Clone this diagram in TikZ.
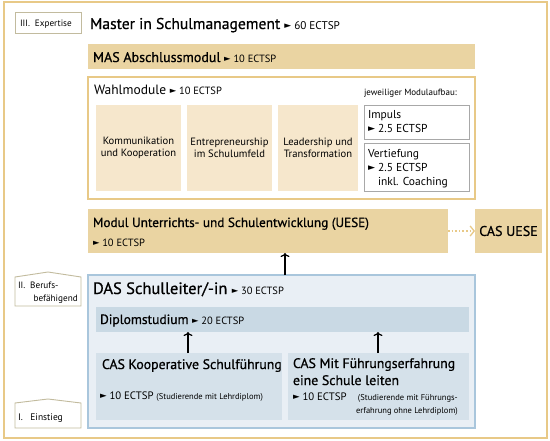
\documentclass[tikz,border=0pt]{standalone}
\usepackage{fontspec}
\setmainfont{PT Sans}
\newfontfamily\medf[FakeBold=0.7]{PT Sans}
\newfontfamily\symf{DejaVu Sans}
\usetikzlibrary{arrows.meta}
\definecolor{goldline}{HTML}{E8C987}
\definecolor{sand}{HTML}{EAD4A2}
\definecolor{lightsand}{HTML}{F6E7CC}
\definecolor{greyline}{HTML}{A8A8A8}
\definecolor{tagline}{HTML}{C2BB9E}
\definecolor{dasfill}{HTML}{E9EFF5}
\definecolor{dasline}{HTML}{A9C6DC}
\definecolor{dipfill}{HTML}{C9D9E4}
\definecolor{casfill}{HTML}{D5E1EA}
\newcommand\tri{\raisebox{0.1ex}{\symf\scalebox{0.8}{►}}}
\newcommand\fs[1]{\fontsize{#1}{#1}\selectfont}
\begin{document}
\begin{tikzpicture}[x=1pt,y=-1pt,
  box/.style={inner sep=0pt,outer sep=0pt,minimum width=#1},
  txt/.style={anchor=base west,inner sep=0pt,outer sep=0pt},
  upar/.style={line width=1.8pt,-{To[length=4pt,width=9pt,line width=1.2pt]}},
]
\useasboundingbox (0,0) rectangle (550,440);
\fill[white] (0,0) rectangle (550,440);
% outer frame
\node[box=543pt,minimum height=436pt,draw=goldline,line width=1.3pt] (frame) at (275.5,220) {};
% side tags
\node[box=66pt,minimum height=21pt,draw=tagline,fill=white,line width=0.9pt] (exp) at (48,22.5) {};
\node[txt] (expt) at (20,26) {\fs{9.2}III.\ \ Expertise};
\draw[draw=tagline,fill=white,line width=0.9pt] (15,306) -- (15,277) -- (48,272) -- (81,277) -- (81,306) -- cycle;
\node[txt] (beruf1) at (18,288) {\fs{9.2}II.\ \ Berufs-};
\node[anchor=base east,inner sep=0pt] (beruf2) at (78,301) {\fs{9.2}befähigend};
\draw[draw=tagline,fill=white,line width=0.9pt] (15,428) -- (15,403) -- (48,399) -- (81,403) -- (81,428) -- cycle;
\node[txt] (einst) at (18,420) {\fs{9.5}I.\ \ \ Einstieg};
% title
\node[txt] (title) at (90,29) {\fs{15.6}\medf Master in Schulmanagement \fs{11.2}\normalfont\tri\ 60 ECTSP};
% MAS
\node[box=387pt,minimum height=25pt,fill=sand] (mas) at (281.5,56.5) {};
\node[txt] (mast) at (93,62) {\fs{14}\medf MAS Abschlussmodul \fs{10.5}\normalfont\tri\ 10 ECTSP};
% Wahlmodule
\node[box=387pt,minimum height=122pt,draw=goldline,fill=white,line width=1.2pt] (wahl) at (281.5,138) {};
\node[txt] (wahlt) at (94,94) {\fs{13.5}Wahlmodule \fs{10.5}\tri\ 10 ECTSP};
\node[box=85pt,minimum height=86pt,fill=lightsand,align=center,font=\fs{10.6}\selectfont] (kom) at (138.5,148) {Kommunikation\\[2pt]und Kooperation};
\node[box=85pt,minimum height=86pt,fill=lightsand,align=center,font=\fs{10.6}\selectfont] (ent) at (229.5,148) {Entrepreneurship\\[2pt]im Schulumfeld};
\node[box=80pt,minimum height=86pt,fill=lightsand,align=center,font=\fs{10.6}\selectfont] (lead) at (318,148) {Leadership und\\[2pt]Transformation};
\node[txt] (jew) at (364,95) {\fs{9}jeweiliger Modulaufbau:};
\node[box=105pt,minimum height=34pt,draw=greyline,fill=white,line width=0.8pt] (imp) at (416.5,122) {};
\node[txt] (impt1) at (368,118) {\fs{11.5}Impuls};
\node[txt] (impt2) at (368,132) {\fs{11.5}\tri\ 2.5 ECTSP};
\node[box=105pt,minimum height=48pt,draw=greyline,fill=white,line width=0.8pt] (ver) at (416.5,167) {};
\node[txt] (vert1) at (368,157) {\fs{11.5}Vertiefung};
\node[txt] (vert2) at (368,171) {\fs{11.5}\tri\ 2.5 ECTSP};
\node[txt] (vert3) at (378,185) {\fs{11.5}inkl. Coaching};
% UESE
\node[box=360pt,minimum height=44pt,fill=sand] (uese) at (268,231) {};
\node[txt] (ueset1) at (93,227) {\fs{13.2}\medf Modul Unterrichts- und Schulentwicklung (UESE)};
\node[txt] (ueset2) at (93,246) {\fs{10.5}\tri\ 10 ECTSP};
\node[box=67pt,minimum height=44pt,fill=sand,font=\fs{14}\medf] (casu) at (508.5,231) {CAS UESE};
\draw[goldline,line width=1.6pt,dotted,-{Straight Barb[length=4pt,width=10pt,line width=1.3pt]}] (uese.east) -- (casu.west);
% DAS
\node[box=387pt,minimum height=153pt,draw=dasline,fill=dasfill,line width=1.2pt] (das) at (281.5,351.5) {};
\node[txt] (dast) at (93,294) {\fs{16.5}\medf DAS Schulleiter/-in \fs{10.5}\normalfont\tri\ 30 ECTSP};
\node[box=373pt,minimum height=25pt,fill=dipfill] (dip) at (282.5,319.5) {};
\node[txt] (dipt) at (100,324) {\fs{13.5}\medf Diplomstudium \fs{10.5}\normalfont\tri\ 20 ECTSP};
\node[box=186pt,minimum height=67pt,fill=casfill] (cask) at (189,386.5) {};
\node[txt] (caskt1) at (102,369) {\fs{13.8}\medf CAS Kooperative Schulführung};
\node[txt] (caskt2) at (100,399) {\fs{10.8}\tri\ 10 ECTSP \fs{8.5}(Studierende mit Lehrdiplom)};
\node[box=181pt,minimum height=67pt,fill=casfill] (casm) at (378.5,386.5) {};
\node[txt] (casmt1) at (293,368) {\fs{13.8}\medf CAS Mit Führungserfahrung};
\node[txt] (casmt2) at (293,385) {\fs{13.8}\medf eine Schule leiten};
\node[txt] (casmt3) at (293,400) {\fs{10.8}\tri\ 10 ECTSP};
\node[anchor=base east,inner sep=0pt,font=\fs{8.5}\selectfont] (casmt4) at (458,400) {(Studierende mit Führungs-};
\node[anchor=base east,inner sep=0pt,font=\fs{8.5}\selectfont] (casmt5) at (458,413) {erfahrung ohne Lehrdiplom)};
% arrows
\draw[upar] (das.north -| 285,0) -- (uese.south -| 285,0);
\draw[upar] (cask.north -| 188,0) -- (dip.south -| 188,0);
\draw[upar] (casm.north -| 378,0) -- (dip.south -| 378,0);
\end{tikzpicture}
\end{document}
